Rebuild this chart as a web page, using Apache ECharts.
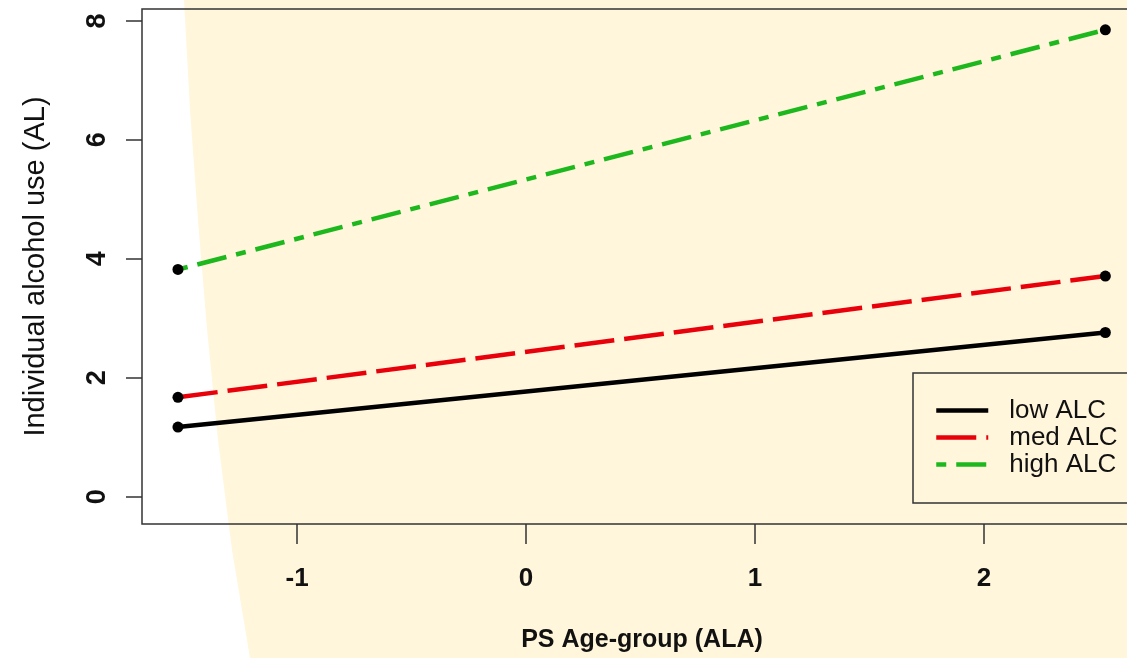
<!DOCTYPE html>
<html>
<head>
<meta charset="utf-8">
<script src="https://cdn.jsdelivr.net/npm/echarts@6/dist/echarts.min.js"></script>
<style>
html,body{margin:0;padding:0;background:#fff;overflow:hidden;width:1127px;height:658px;}
#c{width:1160px;height:658px;}
</style>
</head>
<body>
<div id="c"></div>
<script>
// Data
const xValues = [-1.52, 2.53];           // PS Age-group (ALA) at the two evaluation points
const lowALC  = [1.17, 2.76];
const medALC  = [1.67, 3.71];
const highALC = [3.82, 7.85];
const seriesNames = ['low ALC', 'med ALC', 'high ALC'];
const xTicks = [-1, 0, 1, 2];
const yTicks = [0, 2, 4, 6, 8];

const FONT = '"Liberation Sans", Arial, sans-serif';
const chart = echarts.init(document.getElementById('c'), null, {renderer: 'canvas'});

function pairs(ys) { return xValues.map((x, i) => [x, ys[i]]); }

const option = {
  animation: false,
  backgroundColor: 'transparent',
  graphic: [{
    type: 'polygon',
    z: -10,
    silent: true,
    shape: {points: [[184,0],[190,110],[198,220],[207,329],[218,440],[232,550],[250,658],[1160,658],[1160,0]]},
    style: {fill: '#FFF6DC'}
  }],
  grid: {
    left: 142, top: 9, right: 18, bottom: 133,
    show: true, borderColor: '#333', borderWidth: 1.5, backgroundColor: 'transparent'
  },
  xAxis: {
    type: 'value',
    min: -1.677, max: 2.69,
    name: 'PS Age-group (ALA)',
    nameLocation: 'middle',
    nameGap: 104,
    nameTextStyle: {fontFamily: FONT, fontWeight: 'bold', fontSize: 25, color: '#111'},
    axisLine: {show: false, onZero: false},
    splitLine: {show: false},
    axisTick: {show: true, length: 20, inside: false, customValues: xTicks, lineStyle: {color: '#333', width: 1.5}},
    axisLabel: {customValues: xTicks, margin: 42, fontFamily: FONT, fontWeight: 'bold', fontSize: 26, color: '#111'}
  },
  yAxis: {
    type: 'value',
    min: -0.46, max: 8.2,
    name: 'Individual alcohol use (AL)',
    nameLocation: 'middle',
    nameRotate: 90,
    nameGap: 92,
    nameTextStyle: {fontFamily: FONT, fontSize: 29, color: '#111'},
    axisLine: {show: false, onZero: false},
    splitLine: {show: false},
    axisTick: {show: true, length: 16, inside: false, customValues: yTicks, lineStyle: {color: '#333', width: 1.5}},
    axisLabel: {customValues: yTicks, rotate: 90, margin: 31, fontFamily: FONT, fontWeight: 'bold', fontSize: 27, color: '#111'}
  },
  legend: {
    left: 913, top: 373,
    orient: 'vertical',
    data: seriesNames,
    itemWidth: 52, itemHeight: 6, itemGap: 0,
    padding: [24, 18, 25, 21],
    borderColor: '#333', borderWidth: 1.5,
    backgroundColor: 'transparent',
    itemStyle: {opacity: 0},
    lineStyle: {width: 4.5},
    textStyle: {fontFamily: FONT, fontSize: 26, color: '#111', lineHeight: 27, padding: [0, 0, 0, 16]}
  },
  series: [
    {name: seriesNames[0], type: 'line', data: pairs(lowALC), symbol: 'circle', symbolSize: 11,
     itemStyle: {color: '#000'}, lineStyle: {color: '#000', width: 4.5, type: 'solid'}},
    {name: seriesNames[1], type: 'line', data: pairs(medALC), symbol: 'circle', symbolSize: 11,
     itemStyle: {color: '#000'}, lineStyle: {color: '#E8000B', width: 4.5, type: [40, 10]}},
    {name: seriesNames[2], type: 'line', data: pairs(highALC), symbol: 'circle', symbolSize: 11,
     itemStyle: {color: '#000'}, lineStyle: {color: '#1DB81D', width: 4.5, type: [10, 10, 30, 10]}}
  ]
};
chart.setOption(option);
</script>
</body>
</html>
